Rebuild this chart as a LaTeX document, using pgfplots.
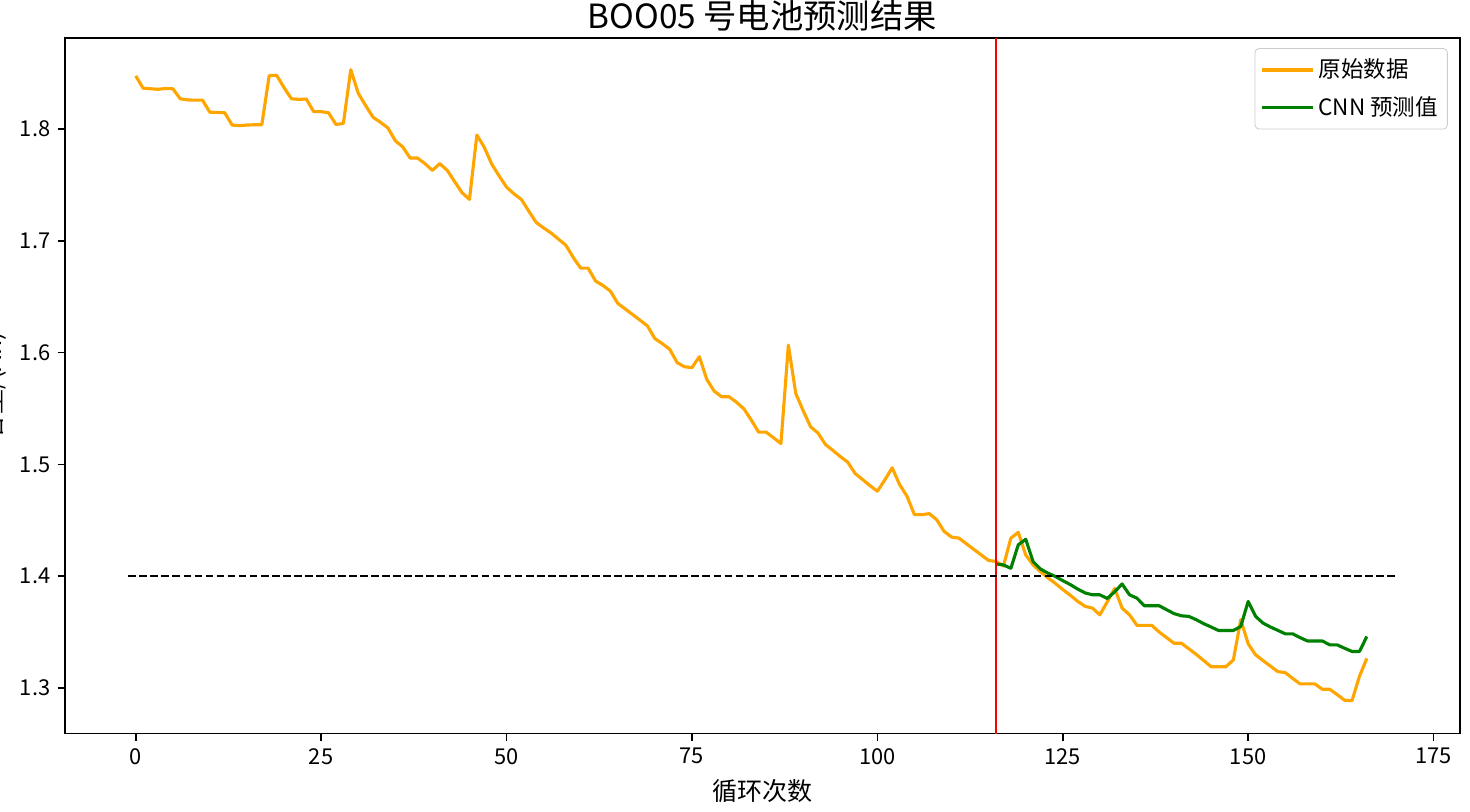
\documentclass[border=0pt]{standalone}
\usepackage{pgfplots}
\usepackage{pgfplotstable}
\pgfplotsset{compat=1.18}
\usepackage{fontspec}
\setmainfont{Noto Sans CJK SC}

\pgfplotstableread{
x y
0 1.8475
1 1.8365
2 1.8360
3 1.8355
4 1.8362
5 1.8360
6 1.8270
7 1.8260
8 1.8258
9 1.8258
10 1.8150
11 1.8148
12 1.8145
13 1.8035
14 1.8030
15 1.8035
16 1.8038
17 1.8038
18 1.8478
19 1.8480
20 1.8370
21 1.8270
22 1.8265
23 1.8268
24 1.8155
25 1.8155
26 1.8145
27 1.8040
28 1.8050
29 1.8530
30 1.8320
31 1.8210
32 1.8105
33 1.8060
34 1.8010
35 1.7895
36 1.7840
37 1.7740
38 1.7740
39 1.7690
40 1.7630
41 1.7690
42 1.7630
43 1.7530
44 1.7430
45 1.7370
46 1.7946
47 1.7836
48 1.7686
49 1.7580
50 1.7480
51 1.7420
52 1.7370
53 1.7265
54 1.7164
55 1.7115
56 1.7070
57 1.7015
58 1.6960
59 1.6850
60 1.6755
61 1.6755
62 1.6640
63 1.6600
64 1.6550
65 1.6440
66 1.6390
67 1.6340
68 1.6290
69 1.6238
70 1.6125
71 1.6080
72 1.6030
73 1.5910
74 1.5873
75 1.5865
76 1.5963
77 1.5760
78 1.5655
79 1.5605
80 1.5605
81 1.5556
82 1.5497
83 1.5396
84 1.5288
85 1.5288
86 1.5238
87 1.5186
88 1.6067
89 1.5634
90 1.5480
91 1.5336
92 1.5280
93 1.5178
94 1.5125
95 1.5070
96 1.5020
97 1.4918
98 1.4865
99 1.4810
100 1.4760
101 1.4860
102 1.4969
103 1.4819
104 1.4714
105 1.4550
106 1.4550
107 1.4559
108 1.4505
109 1.4400
110 1.4350
111 1.4340
112 1.4290
113 1.4240
114 1.4190
115 1.4140
116 1.4132
117 1.4090
118 1.4340
119 1.4392
120 1.4190
121 1.4100
122 1.4040
123 1.3985
124 1.3935
125 1.3880
126 1.3830
127 1.3775
128 1.3730
129 1.3714
130 1.3654
131 1.3770
132 1.3890
133 1.3714
134 1.3654
135 1.3560
136 1.3560
137 1.3560
138 1.3500
139 1.3450
140 1.3400
141 1.3400
142 1.3350
143 1.3300
144 1.3245
145 1.3190
146 1.3190
147 1.3190
148 1.3250
149 1.3610
150 1.3395
151 1.3296
152 1.3245
153 1.3195
154 1.3146
155 1.3137
156 1.3085
157 1.3036
158 1.3036
159 1.3036
160 1.2988
161 1.2988
162 1.2940
163 1.2890
164 1.2886
165 1.3103
166 1.3265
}\orig

\pgfplotstableread{
x y
116 1.4110
117 1.4100
118 1.4070
119 1.4280
120 1.4330
121 1.4130
122 1.4064
123 1.4027
124 1.3997
125 1.3960
126 1.3925
127 1.3885
128 1.3850
129 1.3833
130 1.3833
131 1.3800
132 1.3860
133 1.3930
134 1.3833
135 1.3803
136 1.3735
137 1.3735
138 1.3735
139 1.3700
140 1.3665
141 1.3645
142 1.3640
143 1.3610
144 1.3575
145 1.3545
146 1.3514
147 1.3514
148 1.3514
149 1.3550
150 1.3774
151 1.3640
152 1.3580
153 1.3545
154 1.3515
155 1.3484
156 1.3484
157 1.3450
158 1.3420
159 1.3420
160 1.3420
161 1.3385
162 1.3385
163 1.3355
164 1.3326
165 1.3326
166 1.3460
}\pred

\definecolor{mplorange}{HTML}{FFA500}
\definecolor{mplgreen}{HTML}{008000}

\begin{document}
\begin{tikzpicture}
\begin{axis}[
  at={(0,0)}, anchor=south west,
  scale only axis,
  width=669.6pt, height=333.8pt,
  xmin=-9.55, xmax=178.55,
  ymin=1.2592, ymax=1.8813,
  xtick={0,25,50,75,100,125,150,175},
  ytick={1.3,1.4,1.5,1.6,1.7,1.8},
  yticklabel style={/pgf/number format/fixed, /pgf/number format/fixed zerofill, /pgf/number format/precision=1},
  /pgf/number format/assume math mode=true,
  ticklabel style={font=\fontsize{10.5}{12}\selectfont},
  tick align=outside,
  major tick length=3.5pt,
  tick style={black, line width=0.8pt},
  xtick pos=bottom, ytick pos=left,
  axis line style={line width=0.8pt},
  every axis title shift=0pt,
  title={BOO05 号电池预测结果},
  title style={at={(axis description cs:0.5,1.0144)}, anchor=base, font=\fontsize{16}{19}\selectfont},
  xlabel={循环次数},
  xlabel style={at={(axis description cs:0.5,-0.097)}, anchor=base, font=\fontsize{12}{14}\selectfont},
  ylabel={容量/(Ah)},
  ylabel style={at={(axis description cs:-0.0366,0.5)}, anchor=south, font=\fontsize{12}{14}\selectfont},
  legend style={at={(axis description cs:0.9913,0.9856)}, anchor=north east,
    draw=black!20, rounded corners=2pt, font=\fontsize{10.8}{13}\selectfont,
    inner xsep=2.5pt, inner ysep=3pt, row sep=3.5pt},
  legend cell align=left,
  legend image code/.code={\draw[#1] (0pt,0pt) -- (21.6pt,0pt); \path (0pt,0pt) -- (24.5pt,0pt);},
]
\addplot[mplorange, line width=1.5pt, line join=round] table[x=x,y=y] {\orig};
\addlegendentry{原始数据}
\addplot[mplgreen, line width=1.5pt, line join=round] table[x=x,y=y] {\pred};
\addlegendentry{CNN 预测值}
\addplot[red, line width=1pt, forget plot] coordinates {(116,1.2) (116,1.95)};
\addplot[black, line width=1pt, dash pattern=on 3.7pt off 1.6pt, forget plot] coordinates {(-1,1.4) (170,1.4)};
\end{axis}
\pgfresetboundingbox
\path[use as bounding box] (-31.15pt,-37.6pt) rectangle (674.45pt,352.1pt);
\end{tikzpicture}
\end{document}
